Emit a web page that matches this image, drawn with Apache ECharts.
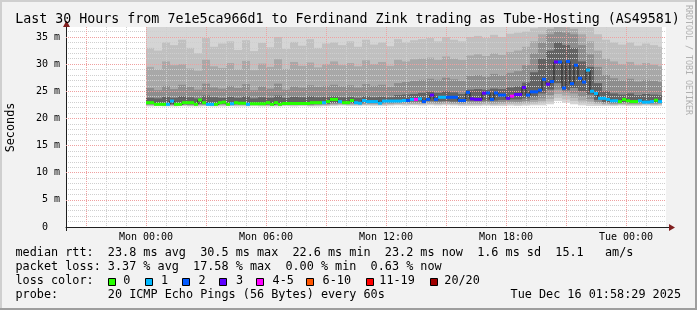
<!DOCTYPE html>
<html><head><meta charset="utf-8">
<script src="https://cdn.jsdelivr.net/npm/echarts@6/dist/echarts.min.js"></script>
<style>html,body{margin:0;padding:0;background:#f2f2f2}#c{width:697px;height:310px}</style>
</head><body><div id="c"></div>
<script>
// ---------- texts ----------
const TITLE = 'Last 30 Hours from 7e1e5ca966d1 to Ferdinand Zink trading as Tube-Hosting (AS49581)';
const Y_NAME = 'Seconds';
const WATERMARK = 'RRDTOOL / TOBI OETIKER';
const LEGEND_ROWS = [
  'median rtt:  23.8 ms avg  30.5 ms max  22.6 ms min  23.2 ms now  1.6 ms sd  15.1   am/s',
  'packet loss: 3.37 % avg  17.58 % max  0.00 % min  0.63 % now',
  'loss color:',
  'probe:       20 ICMP Echo Pings (56 Bytes) every 60s'
];
const STAMP = 'Tue Dec 16 01:58:29 2025';

// ---------- axes (time in minutes relative to Mon 00:00) ----------
const X_MIN = -240, X_MAX = 1560;
const X_TICK_VALUES = [0, 360, 720, 1080, 1440];
const X_TICK_LABELS = ['Mon 00:00', 'Mon 06:00', 'Mon 12:00', 'Mon 18:00', 'Tue 00:00'];
const Y_MAX = 36.84;
const Y_TICK_VALUES = [0, 5, 10, 15, 20, 25, 30, 35];
const Y_TICK_LABELS = ['0  ', '5 m', '10 m', '15 m', '20 m', '25 m', '30 m', '35 m'];

// ---------- loss colours ----------
const LOSS_LABELS = ['0', '1', '2', '3', '4-5', '6-10', '11-19', '20/20'];
const LOSS_COLORS = ['#26ff00', '#00b8ff', '#0059ff', '#5e00ff', '#ff00ff', '#ff5500', '#ff0000', '#a00000'];

// ---------- median rtt (ms), one value every 12 min from Mon 00:00 ----------
const MED_STEP = 12;
const median = [
  22.9,22.9,22.6,22.6,22.6,22.6,23.2,22.6,22.6,22.9,
  22.9,22.9,22.6,23.4,22.9,22.6,22.6,22.6,22.9,23.0,
  22.6,22.7,22.9,22.8,22.8,22.6,22.7,22.7,22.7,22.7,
  22.9,22.6,22.9,22.6,22.75,22.75,22.75,22.75,22.75,22.75,
  22.75,22.9,22.9,22.9,22.9,23.1,23.5,23.5,23.1,22.9,
  22.9,23.3,22.9,22.8,23.3,23.1,23.1,23.1,22.8,23.2,
  23.2,23.2,23.2,23.2,23.3,23.3,23.5,23.5,23.6,23.1,
  23.5,24.3,23.5,23.9,23.9,23.9,23.9,23.9,23.3,23.3,
  24.8,23.6,23.5,23.5,24.65,24.7,23.5,24.7,24.3,24.3,
  23.7,24.1,24.4,24.4,25.7,24.3,24.9,24.9,25.2,27.2,
  26.3,26.8,30.4,30.4,25.6,30.5,26.4,29.8,27.4,26.7,
  28.9,25.0,24.6,23.7,23.7,23.5,23.25,23.25,23.1,23.5,
  23.25,23.1,23.1,23.25,23.0,23.0,23.1,23.35,23.1
];
// loss colour class per median sample (index into LOSS_LABELS)
const lossClass = [
  0,0,0,0,0,1,1,0,0,0,
  0,0,0,0,0,1,1,0,0,0,
  0,1,0,0,0,1,0,0,0,0,
  0,0,0,0,0,0,0,0,0,0,
  0,0,0,0,1,0,0,0,1,0,
  0,0,1,1,1,1,1,1,1,1,
  1,1,1,1,1,2,1,4,1,2,
  2,3,2,1,1,2,2,2,2,2,
  2,3,3,3,3,2,2,2,2,2,
  3,4,3,3,3,2,2,2,2,2,
  3,2,3,2,2,2,2,2,2,2,
  1,1,1,1,1,1,1,1,0,0,
  0,0,0,1,1,1,1,0,1
];

// ---------- smoke bands (ms), one column every 24 min; A = outermost ... E = innermost ----------
const SMOKE_STEP = 24;
const loA = [22.2,22.25,22.2,22.2,22.25,22.2,22.2,22.25,22.2,22.2,22.25,22.2,22.2,22.25,22.2,22.2,22.2,22.25,22.2,22.25,22.2,22.2,22.25,
  22.3,22.35,22.3,22.3,22.35,22.3,22.3,22.35,22.4,22.35,22.4,22.35,22.4,22.35,22.4,22.35,22.3,
  22.3,22.3,22.35,22.3,22.3,22.35,22.3,22.35,
  22.4,22.4,22.6,23.2,22.9,22.6,22.4,22.3,22.3,
  22.3,22.3,22.35,22.3,22.3,22.35,22.3,22.3];
const hiA = [40,38,42,39,41,38,37.5,43,40,39,41,38,42,38,40,39,44,38,41,40,42,39,41,
  41,40,42,39,42,40,41,39,43,41,42,42,43,41,43,42,41,
  43,44,42,44,43,45,45,46,
  46,48,50,55,55,52,50,48,45,
  43,42,41,42,40,41,40,39];
const loB = [22.35,22.35,22.3,22.3,22.35,22.3,22.35,22.35,22.3,22.35,22.35,22.35,22.35,22.4,22.35,22.3,22.3,22.35,22.35,22.35,22.3,22.35,22.35,
  22.45,22.5,22.45,22.45,22.5,22.5,22.5,22.5,22.55,22.55,22.55,22.55,22.6,22.55,22.6,22.55,22.5,
  22.5,22.5,22.55,22.5,22.55,22.6,22.55,22.6,
  22.7,22.8,23.1,23.8,23.5,23.2,22.8,22.7,22.6,
  22.5,22.45,22.5,22.45,22.45,22.5,22.45,22.5];
const hiB = [33.0,32.5,34.0,33.5,34.5,33.0,32.0,34.8,33.2,33.8,34.2,32.6,34.4,32.4,33.9,33.1,35.0,32.8,34.1,33.4,34.6,33.0,33.8,
  34.0,33.5,34.2,33.2,34.5,33.6,34.0,33.3,34.6,34.0,34.4,34.6,34.8,34.2,35.0,34.5,34.2,
  35.0,35.2,34.8,35.4,35.0,35.6,35.8,36.0,
  36.6,37.5,38.5,39.0,38.5,38.0,37.2,36.8,35.5,
  34.5,34.0,33.6,34.0,33.4,33.8,33.5,33.2];
const loC = [22.45,22.45,22.4,22.4,22.45,22.4,22.45,22.45,22.4,22.45,22.5,22.45,22.45,22.5,22.45,22.4,22.4,22.45,22.45,22.5,22.4,22.45,22.5,
  22.55,22.6,22.55,22.6,22.6,22.6,22.6,22.65,22.7,22.7,22.7,22.7,22.75,22.7,22.75,22.7,22.65,
  22.7,22.7,22.75,22.7,22.75,22.8,22.8,22.85,
  23.0,23.2,23.6,24.5,24.2,23.8,23.3,23.1,22.8,
  22.65,22.6,22.65,22.6,22.6,22.65,22.6,22.65];
const hiC = [29.5,29.0,30.5,29.8,30.0,29.2,28.8,30.8,29.6,29.3,30.2,29.0,30.6,28.9,30.1,29.5,30.9,29.1,30.4,29.7,30.3,29.4,30.0,
  30.5,29.8,30.2,29.6,30.7,30.0,30.4,29.7,30.8,30.5,30.9,31.0,31.2,30.8,31.4,31.0,30.8,
  31.6,31.8,31.5,32.0,31.7,32.2,32.5,33.2,
  34.2,35.5,36.5,37.0,36.8,36.5,35.5,34.2,32.5,
  31.0,30.5,30.0,30.4,29.8,30.2,29.9,29.6];
const loD = [22.55,22.55,22.5,22.5,22.55,22.5,22.55,22.55,22.5,22.6,22.6,22.55,22.55,22.6,22.55,22.5,22.5,22.55,22.6,22.6,22.5,22.55,22.6,
  22.7,22.75,22.7,22.75,22.75,22.75,22.8,22.8,22.85,22.9,22.9,22.9,22.95,22.9,22.95,22.9,22.85,
  22.95,22.95,23.0,22.95,23.0,23.1,23.05,23.2,
  23.4,23.7,24.3,25.3,24.8,24.6,24.0,23.6,23.0,
  22.8,22.75,22.8,22.75,22.75,22.8,22.75,22.8];
const hiD = [25.6,25.2,26.0,25.4,26.2,25.8,25.3,26.4,25.7,25.5,26.0,25.6,26.3,25.2,25.9,25.5,26.4,25.3,25.9,25.7,26.1,25.8,26.0,
  26.2,25.9,26.1,25.7,26.3,26.0,26.2,25.8,26.5,26.7,26.9,27.1,27.3,27.1,27.5,27.2,26.9,
  27.8,28.0,27.7,28.2,27.9,28.4,28.7,29.8,
  32.0,34.0,35.5,36.0,35.8,35.5,33.5,31.8,29.5,
  28.0,27.4,27.0,27.3,26.8,27.1,26.9,26.7];
const loE = [22.65,22.65,22.6,22.6,22.65,22.6,22.7,22.65,22.6,22.7,22.7,22.65,22.65,22.75,22.65,22.6,22.6,22.65,22.7,22.7,22.6,22.65,22.7,
  22.85,22.95,22.85,22.9,22.95,22.95,23.0,23.0,23.1,23.15,23.15,23.15,23.2,23.15,23.2,23.1,23.05,
  23.25,23.3,23.3,23.3,23.4,23.5,23.5,23.7,
  24.0,24.6,25.3,26.5,25.2,25.6,25.0,24.4,23.4,
  23.0,22.95,23.0,22.95,22.95,23.0,22.95,23.0];
const hiE = [23.8,23.7,24.0,23.8,24.1,23.9,23.7,24.2,23.9,23.8,24.0,23.8,24.1,23.7,23.9,23.8,24.2,23.8,24.0,23.9,24.1,23.9,24.0,
  24.1,23.9,24.0,23.8,24.1,23.9,24.0,23.9,24.3,24.4,24.5,24.7,24.9,24.7,25.0,24.8,24.5,
  25.3,25.4,25.3,25.5,25.4,25.7,25.9,26.6,
  28.5,31.0,32.5,34.0,33.5,33.0,30.5,29.5,26.5,
  25.0,24.6,24.4,24.6,24.3,24.5,24.4,24.3];

// ---------- build ----------
const FONT = '"DejaVu Sans Mono", monospace';
const DATA_END = median.length * MED_STEP;
const layers = [
  {lo: loA, hi: hiA, color: '#d5d5d5'},
  {lo: loB, hi: hiB, color: '#c0c0c0'},
  {lo: loC, hi: hiC, color: '#a8a8a8'},
  {lo: loD, hi: hiD, color: '#8d8d8d'},
  {lo: loE, hi: hiE, color: '#636363'}
];

function clipToGrid(r, params) {
  const cs = params.coordSys;
  return echarts.graphic.clipRectByRect(r, {x: cs.x, y: cs.y, width: cs.width, height: cs.height});
}
function pick(values, labels, v) {
  const k = values.findIndex(t => Math.abs(t - v) < 1e-6);
  return k >= 0 ? labels[k] : '';
}

const series = [];
layers.forEach((L, k) => {
  series.push({
    type: 'custom', xAxisIndex: 0, yAxisIndex: 0, z: 1, silent: true,
    data: L.lo.map((v, j) => [j * SMOKE_STEP, v, L.hi[j]]),
    renderItem: (params, api) => {
      const t0 = api.value(0);
      const t1 = Math.min(t0 + SMOKE_STEP, DATA_END);
      const p0 = api.coord([t0, api.value(2)]);
      const p1 = api.coord([t1, api.value(1)]);
      const r = clipToGrid({x: p0[0], y: p0[1], width: p1[0] - p0[0], height: p1[1] - p0[1]}, params);
      return r && {type: 'rect', z2: k, shape: r, style: {fill: L.color}};
    }
  });
});
// thin dark connector of the median
series.push({
  type: 'line', xAxisIndex: 0, yAxisIndex: 0, z: 5, step: 'end', symbol: 'none', silent: true,
  lineStyle: {color: '#202020', width: 1},
  data: median.map((v, i) => [i * MED_STEP, v]).concat([[DATA_END, median[median.length - 1]]])
});
// median coloured by packet loss
series.push({
  type: 'custom', xAxisIndex: 0, yAxisIndex: 0, z: 6, silent: true,
  data: median.map((v, i) => [i * MED_STEP, v, lossClass[i]]),
  renderItem: (params, api) => {
    const t0 = api.value(0);
    const p0 = api.coord([t0, api.value(1)]);
    const p1 = api.coord([t0 + MED_STEP, api.value(1)]);
    return {type: 'rect', shape: {x: p0[0], y: p0[1] - 1.5, width: p1[0] - p0[0], height: 3},
            style: {fill: LOSS_COLORS[api.value(2)]}};
  }
});

const minorLine = {show: true, showMinLine: false, showMaxLine: false, lineStyle: {color: '#cfcfcf', width: 1, type: [1, 1]}};
const majorLine = {show: true, showMinLine: false, showMaxLine: false, lineStyle: {color: '#efa0a0', width: 1, type: [1, 1]}};

function txt(text, x, y, size, opts) {
  opts = opts || {};
  return {type: 'text', z: 100, silent: true, rotation: opts.rotation || 0, x: x, y: y,
    style: {text: text, x: 0, y: 0, font: size + 'px ' + FONT, fill: opts.fill || '#000',
      textAlign: opts.align || 'left', align: opts.align || 'left',
      textVerticalAlign: 'middle', verticalAlign: 'middle'}};
}

const graphic = [];
// frame shades
graphic.push({type: 'rect', z: 50, silent: true, shape: {x: 0, y: 0, width: 697, height: 2}, style: {fill: '#cfcfcf'}});
graphic.push({type: 'rect', z: 50, silent: true, shape: {x: 0, y: 0, width: 2, height: 310}, style: {fill: '#cfcfcf'}});
graphic.push({type: 'rect', z: 51, silent: true, shape: {x: 0, y: 308, width: 697, height: 2}, style: {fill: '#9e9e9e'}});
graphic.push({type: 'rect', z: 51, silent: true, shape: {x: 695, y: 0, width: 2, height: 310}, style: {fill: '#9e9e9e'}});
// axis extensions + arrows
graphic.push({type: 'line', z: 60, silent: true, shape: {x1: 666, y1: 227.5, x2: 670, y2: 227.5}, style: {stroke: '#1f1f1f', lineWidth: 1}});
graphic.push({type: 'line', z: 60, silent: true, shape: {x1: 66.5, y1: 227, x2: 66.5, y2: 231}, style: {stroke: '#1f1f1f', lineWidth: 1}});
graphic.push({type: 'polygon', z: 61, silent: true, shape: {points: [[669, 224], [675, 227.5], [669, 231]]}, style: {fill: '#801f1f'}});
graphic.push({type: 'polygon', z: 61, silent: true, shape: {points: [[63, 27], [66.5, 20.5], [70, 27]]}, style: {fill: '#801f1f'}});
// title, axis name, watermark
graphic.push(txt(TITLE, 347.5, 19.4, 13.3, {align: 'center'}));
graphic.push(txt(Y_NAME, 11, 127.5, 11.8, {align: 'center', rotation: Math.PI / 2}));
graphic.push(txt(WATERMARK, 688, 60, 8.3, {align: 'center', rotation: -Math.PI / 2, fill: '#b0b0b0'}));
// legend rows
const ROW_Y = [253.2, 267.2, 281.2, 295.2];
LEGEND_ROWS.forEach((r, i) => graphic.push(txt(r, 15.5, ROW_Y[i], 11.8)));
graphic.push(txt(STAMP, 681, ROW_Y[3], 11.8, {align: 'right'}));
// loss colour legend
const BOX_X = [108.5, 145.5, 182.5, 219.5, 256.5, 306.5, 366.5, 430.5];
const LAB_X = [123.3, 161, 198.6, 236, 272.6, 322.6, 379.3, 444.3];
LOSS_LABELS.forEach((lab, i) => {
  graphic.push({type: 'rect', z: 100, silent: true, shape: {x: BOX_X[i], y: 278.5, width: 7, height: 7},
    style: {fill: LOSS_COLORS[i], stroke: '#000', lineWidth: 1}});
  graphic.push(txt(lab, LAB_X[i], ROW_Y[2], 11.8));
});

const chart = echarts.init(document.getElementById('c'), null, {renderer: 'canvas'});
chart.setOption({
  animation: false,
  backgroundColor: '#f2f2f2',
  grid: [
    {left: 66, top: 27, width: 600, height: 200, show: true, backgroundColor: '#ffffff', borderWidth: 0},
    {left: 86, top: 27, width: 580, height: 200, show: false},
    {left: 146, top: 27, width: 520, height: 200, show: false}
  ],
  xAxis: [
    {gridIndex: 0, type: 'value', min: X_MIN, max: X_MAX, interval: 60, z: 3,
     axisLine: {show: true, onZero: false, lineStyle: {color: '#1f1f1f', width: 1}},
     axisTick: {show: false}, axisLabel: {show: false}, splitLine: minorLine},
    {gridIndex: 1, type: 'value', min: -180, max: X_MAX, interval: 180, z: 4,
     axisLine: {show: false}, axisTick: {show: false}, axisLabel: {show: false},
     splitLine: {show: true, showMinLine: true, showMaxLine: false, lineStyle: majorLine.lineStyle}},
    {gridIndex: 2, type: 'value', min: 0, max: X_MAX, interval: 360, z: 4,
     axisLine: {show: false}, axisTick: {show: false}, splitLine: {show: false},
     axisLabel: {show: true, showMinLabel: true, showMaxLabel: false, margin: 5, color: '#000', fontFamily: FONT, fontSize: 10,
       formatter: v => pick(X_TICK_VALUES, X_TICK_LABELS, v)}}
  ],
  yAxis: [
    {gridIndex: 0, type: 'value', min: 0, max: Y_MAX, interval: 1, z: 3,
     axisLine: {show: true, onZero: false, lineStyle: {color: '#1f1f1f', width: 1}},
     axisTick: {show: false}, axisLabel: {show: false}, splitLine: minorLine},
    {gridIndex: 0, type: 'value', min: 0, max: Y_MAX, interval: 5, z: 4, position: 'left',
     axisLine: {show: false}, axisTick: {show: false}, splitLine: majorLine, axisLabel: {show: false}},
    {gridIndex: 1, type: 'value', min: 0, max: 1, show: false},
    {gridIndex: 2, type: 'value', min: 0, max: 1, show: false}
  ],
  series: series,
  graphic: graphic
});

// y tick labels placed through the value axis scale
const yLabels = Y_TICK_VALUES.map((v, i) => {
  const py = chart.convertToPixel({yAxisIndex: 1}, v);
  return txt(Y_TICK_LABELS[i], 60, py, 10, {align: 'right'});
});
chart.setOption({graphic: graphic.concat(yLabels)});
</script>
</body></html>
